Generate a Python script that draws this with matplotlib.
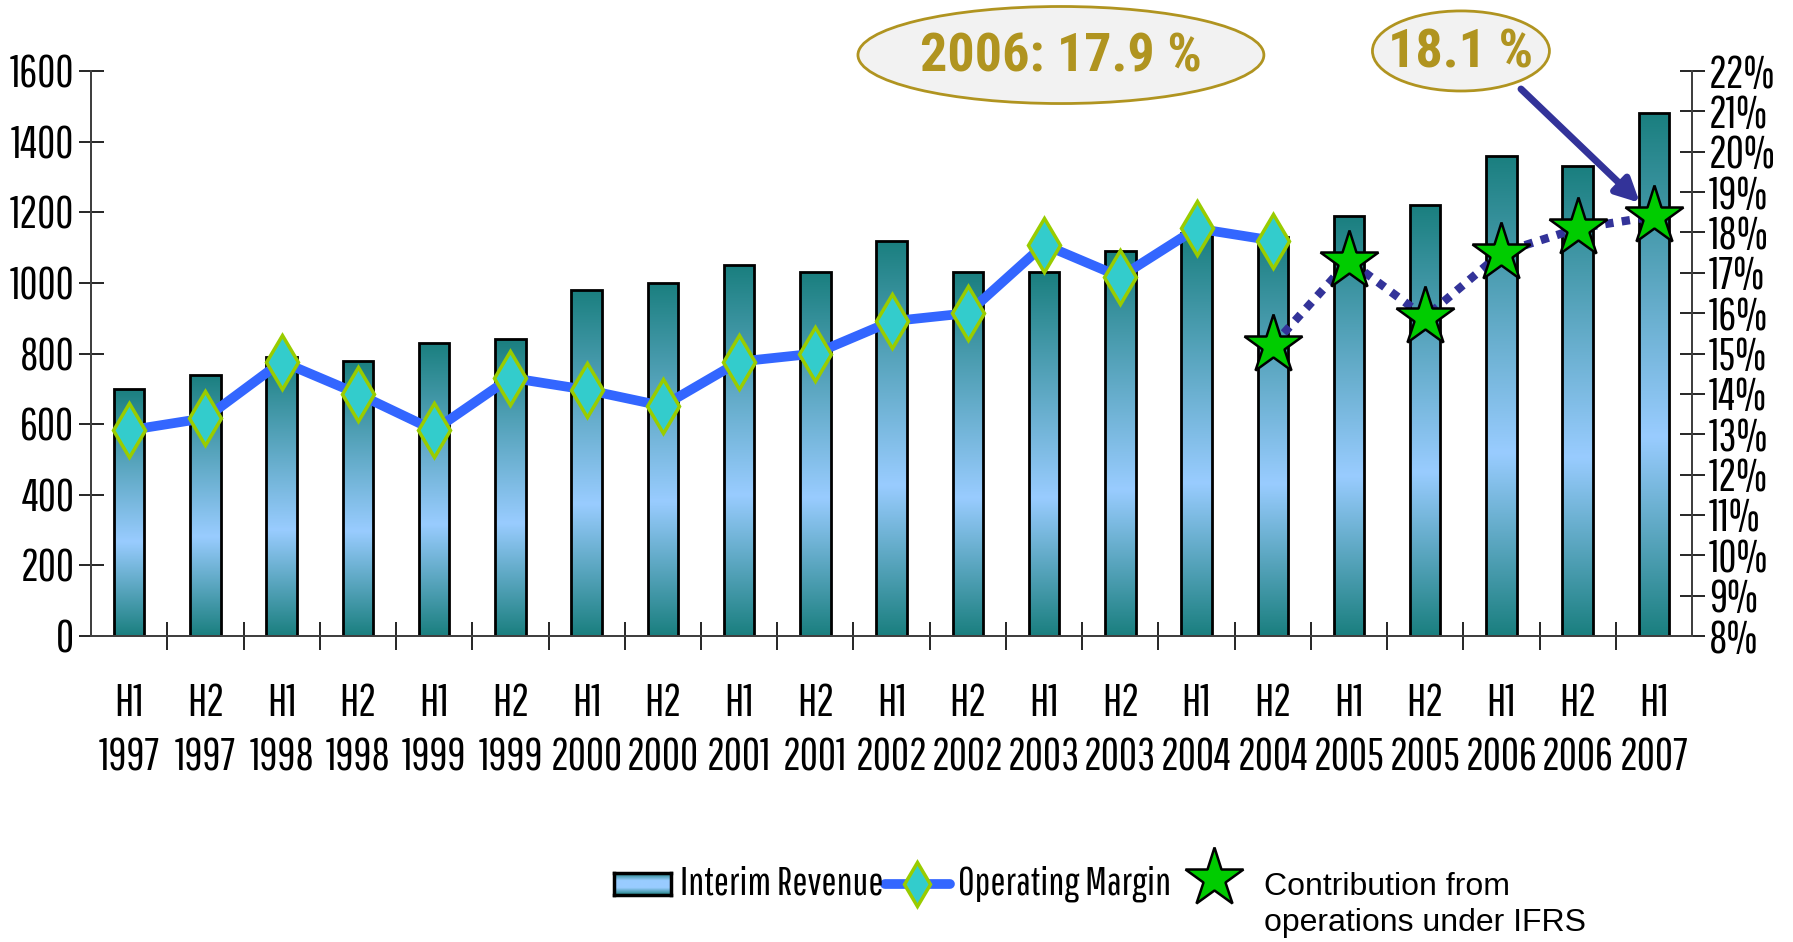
import numpy as np
import matplotlib
matplotlib.use('Agg')
import matplotlib.pyplot as plt
from matplotlib.patches import Ellipse
from matplotlib.lines import Line2D
from matplotlib.colors import LinearSegmentedColormap

periods = ['H1\n1997', 'H2\n1997', 'H1\n1998', 'H2\n1998', 'H1\n1999', 'H2\n1999',
           'H1\n2000', 'H2\n2000', 'H1\n2001', 'H2\n2001', 'H1\n2002', 'H2\n2002',
           'H1\n2003', 'H2\n2003', 'H1\n2004', 'H2\n2004', 'H1\n2005', 'H2\n2005',
           'H1\n2006', 'H2\n2006', 'H1\n2007']
revenue = [700, 740, 790, 780, 830, 840, 980, 1000, 1050, 1030, 1120, 1030,
           1030, 1090, 1140, 1130, 1190, 1220, 1360, 1330, 1480]
margin = [13.1, 13.4, 14.8, 14.0, 13.1, 14.4, 14.1, 13.7, 14.8, 15.0, 15.8, 16.0,
          17.7, 16.9, 18.1, 17.8]
ifrs_start = 15
ifrs_margin = [15.2, 17.3, 15.9, 17.5, 18.1, 18.4]

NARROW = ['Pathway Gothic One', 'Roboto Condensed', 'DejaVu Sans']
BOLD = ['Roboto Condensed', 'DejaVu Sans']
plt.rcParams['font.family'] = NARROW

teal = '#1A7F7F'
light = '#99CCFF'
bar_cmap = LinearSegmentedColormap.from_list('bar', [(0, teal), (0.38, light), (1, teal)])

fig = plt.figure(figsize=(17.93, 9.42), dpi=100)
ax = fig.add_axes([0.0508, 0.3248, 0.8929, 0.5998])
ax2 = ax.twinx()

x = np.arange(len(periods))
bars = ax.bar(x, revenue, width=0.4, facecolor='none', edgecolor='black', linewidth=2, zorder=3)
grad = np.linspace(0, 1, 256).reshape(-1, 1)
for b in bars:
    x0, w, h = b.get_x(), b.get_width(), b.get_height()
    im = ax.imshow(grad, cmap=bar_cmap, extent=[x0, x0 + w, 0, h], origin='lower',
                   aspect='auto', zorder=2)
    im.set_clip_path(b)

ax.set_xlim(-0.5, len(periods) - 0.5)
ax.set_ylim(0, 1600)
ax.set_yticks(range(0, 1601, 200))
ax.set_xticks(np.arange(0.5, len(periods) - 1, 1))
ax.set_xticklabels([])
ax.set_xticks(x, minor=True)
ax.set_xticklabels(periods, minor=True, fontsize=32, linespacing=1.4)
ax.tick_params(axis='x', which='major', direction='inout', length=20, width=1.2)
ax.tick_params(axis='x', which='minor', length=0, pad=34)
ax.tick_params(axis='y', direction='inout', length=18, width=1.2, labelsize=32, pad=3)

ax2.set_ylim(8, 22)
ax2.set_yticks(range(8, 23))
ax2.set_yticklabels(['%d%%' % v for v in range(8, 23)])
ax2.tick_params(axis='y', direction='inout', length=18, width=1.2, labelsize=32, pad=3)

for a in (ax, ax2):
    a.spines['top'].set_visible(False)
    for s in ('left', 'right', 'bottom'):
        a.spines[s].set_linewidth(1.4)
        a.spines[s].set_color('#404040')

ax2.plot(x[:len(margin)], margin, color='#3366FF', linewidth=7, zorder=4,
         marker='d', markersize=27, markerfacecolor='#33CCCC',
         markeredgecolor='#99CC00', markeredgewidth=2.5)
xi = x[ifrs_start:ifrs_start + len(ifrs_margin)]
ax2.plot(xi, ifrs_margin, color='#333399', linewidth=6, linestyle=(0, (1, 1)), zorder=4)
ax2.plot(xi, ifrs_margin, linestyle='none', marker='*', markersize=44,
         markerfacecolor='#00CC00', markeredgecolor='black', markeredgewidth=1.8, zorder=5)

# annotations
gold = '#B09420'
fig.add_artist(Ellipse((0.5917, 0.9416), 0.2264, 0.103, transform=fig.transFigure,
                       facecolor='#F2F2F2', edgecolor=gold, linewidth=2))
fig.text(0.5917, 0.9400, '2006: 17.9 %', color=gold, fontsize=39, fontweight='bold',
         ha='center', va='center', family=BOLD)
fig.add_artist(Ellipse((0.8148, 0.9459), 0.0987, 0.085, transform=fig.transFigure,
                       facecolor='#F2F2F2', edgecolor=gold, linewidth=2))
fig.text(0.8148, 0.9440, '18.1 %', color=gold, fontsize=39, fontweight='bold',
         ha='center', va='center', family=BOLD)
ax2.annotate('', xy=(x[-1], ifrs_margin[-1]), xycoords='data',
             xytext=(0.8483, 0.9055), textcoords='figure fraction',
             arrowprops=dict(arrowstyle='-|>', color='#333399', lw=5,
                             mutation_scale=35, shrinkA=0, shrinkB=14), zorder=6)

# legend
ly = 0.0616
leg_box = fig.add_axes([614 / 1793, ly - 0.0115, 57 / 1793, 0.023])
leg_box.imshow(grad, cmap=LinearSegmentedColormap.from_list('lg', [teal, light, light, teal]),
               aspect='auto', extent=[0, 1, 0, 1])
leg_box.set_xticks([])
leg_box.set_yticks([])
for s in leg_box.spines.values():
    s.set_linewidth(2.5)
fig.text(680 / 1793, ly, 'Interim Revenue', fontsize=29, va='center', family=NARROW)
fig.add_artist(Line2D([885 / 1793, 950 / 1793], [ly, ly], transform=fig.transFigure,
                      color='#3366FF', linewidth=7, solid_capstyle='round'))
fig.add_artist(Line2D([917 / 1793], [ly], transform=fig.transFigure, marker='d',
                      markersize=22, markerfacecolor='#33CCCC',
                      markeredgecolor='#99CC00', markeredgewidth=2.5))
fig.text(958 / 1793, ly, 'Operating Margin', fontsize=29, va='center', family=NARROW)
fig.add_artist(Line2D([1214 / 1793], [(942 - 878) / 942], transform=fig.transFigure,
                      marker='*', markersize=44, markerfacecolor='#00CC00',
                      markeredgecolor='black', markeredgewidth=1.8))
fig.text(1264 / 1793, (942 - 905) / 942, 'Contribution from\noperations under IFRS',
         fontsize=23, va='center', family=['Liberation Sans', 'DejaVu Sans'],
         linespacing=1.3)

fig.savefig('out.png', dpi=100)
